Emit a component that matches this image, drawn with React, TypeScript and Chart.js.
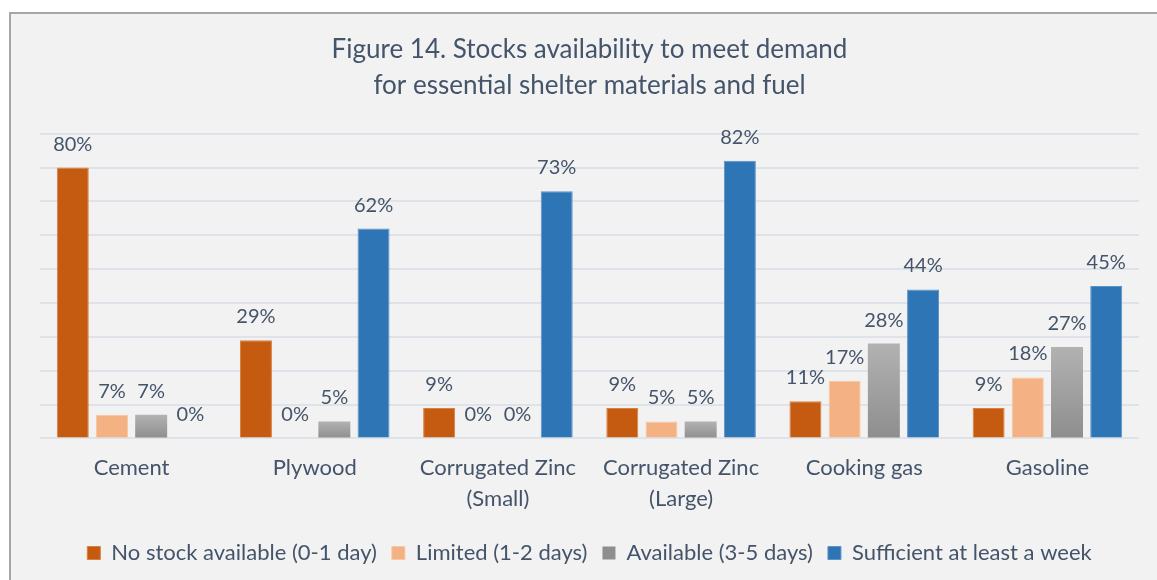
import React, { useEffect, useRef } from "react";
import { Chart, registerables } from "chart.js";

Chart.register(...registerables);

const categories: (string | string[])[] = [
  "Cement",
  "Plywood",
  ["Corrugated Zinc", "(Small)"],
  ["Corrugated Zinc", "(Large)"],
  "Cooking gas",
  "Gasoline",
];
const seriesNames = [
  "No stock available (0-1 day)",
  "Limited (1-2 days)",
  "Available (3-5 days)",
  "Sufficient at least a week",
];
const noStock = [80, 29, 9, 9, 11, 9];
const limited = [7, 0, 0, 5, 17, 18];
const available = [7, 5, 0, 5, 28, 27];
const sufficient = [0, 62, 73, 82, 44, 45];
const titleLines = [
  "Figure 14. Stocks availability to meet demand",
  "for essential shelter materials and fuel",
];

const TEXT = "#44546A";
const FONT = "Lato, 'Open Sans', sans-serif";

const backgroundPlugin = {
  id: "frameBg",
  beforeDraw(chart: any) {
    const ctx = chart.ctx;
    ctx.save();
    ctx.fillStyle = "#ffffff";
    ctx.fillRect(0, 0, chart.width, chart.height);
    ctx.fillStyle = "#f2f2f2";
    ctx.fillRect(10, 14, chart.width, chart.height);
    ctx.strokeStyle = "#a6a6a6";
    ctx.lineWidth = 2;
    ctx.beginPath();
    ctx.moveTo(10, chart.height + 5);
    ctx.lineTo(10, 13);
    ctx.lineTo(chart.width + 5, 13);
    ctx.stroke();
    ctx.restore();
  },
};

const valueLabelPlugin = {
  id: "valueLabels",
  afterDatasetsDraw(chart: any) {
    const ctx = chart.ctx;
    ctx.save();
    ctx.fillStyle = TEXT;
    ctx.font = `20px ${FONT}`;
    ctx.textAlign = "center";
    ctx.textBaseline = "alphabetic";
    chart.data.datasets.forEach((ds: any, di: number) => {
      const meta = chart.getDatasetMeta(di);
      meta.data.forEach((bar: any, i: number) => {
        ctx.fillText(`${ds.data[i]}%`, bar.x, bar.y - 17);
      });
    });
    ctx.restore();
  },
};

function grayGradient(c: any) {
  const chart = c.chart;
  const y = chart.scales && chart.scales.y;
  if (!chart.chartArea || !y || c.parsed == null) return "#a0a0a0";
  const top = y.getPixelForValue(c.parsed.y);
  const bottom = y.getPixelForValue(0);
  if (!(bottom - top > 0.5)) return "#a0a0a0";
  const g = chart.ctx.createLinearGradient(0, top, 0, bottom);
  g.addColorStop(0, "#b2b2b2");
  g.addColorStop(1, "#8e8e8e");
  return g;
}

export default function App() {
  const ref = useRef<HTMLCanvasElement | null>(null);
  useEffect(() => {
    if (!ref.current) return;
    const chart = new Chart(ref.current, {
      type: "bar",
      data: {
        labels: categories,
        datasets: [
          { label: seriesNames[0], data: noStock, backgroundColor: "#C55A11", borderColor: "#d9803f", borderWidth: 1 },
          { label: seriesNames[1], data: limited, backgroundColor: "#F4B183", borderColor: "#f8c7a3", borderWidth: 1 },
          { label: seriesNames[2], data: available, backgroundColor: grayGradient as any, borderColor: "#bdbdbd", borderWidth: 0 },
          { label: seriesNames[3], data: sufficient, backgroundColor: "#2E75B6", borderColor: "#5b93c8", borderWidth: 1 },
        ],
      },
      plugins: [backgroundPlugin, valueLabelPlugin],
      options: {
        animation: false,
        responsive: false,
        maintainAspectRatio: false,
        layout: { padding: { left: 40, right: 18, top: 32, bottom: 6 } },
        datasets: { bar: { categoryPercentage: 0.856, barPercentage: 0.816 } },
        scales: {
          x: {
            grid: { display: false },
            border: { display: false },
            ticks: { color: TEXT, font: { family: FONT, size: 22, lineHeight: 1.4 }, padding: 6, maxRotation: 0, autoSkip: false },
            afterFit(scale: any) {
              scale.height += 7;
            },
          },
          y: {
            min: 0,
            max: 90,
            ticks: { display: false, stepSize: 10 },
            border: { display: false },
            grid: { color: "#dee3ea", lineWidth: 2, drawTicks: false },
          },
        },
        plugins: {
          title: {
            display: true,
            text: titleLines,
            color: TEXT,
            font: { family: FONT, size: 26, weight: "normal", lineHeight: 1.38 },
            padding: { top: 0, bottom: 30 },
          },
          legend: {
            position: "bottom",
            labels: {
              color: TEXT,
              font: { family: FONT, size: 22 },
              boxWidth: 13,
              boxHeight: 13,
              padding: 15,
            },
          },
          tooltip: { enabled: false },
        },
      },
    });
    return () => chart.destroy();
  }, []);
  return (
    <div style={{ position: "fixed", left: 0, top: 0, width: 1157, height: 580, background: "#fff" }}>
      <canvas ref={ref} width={1157} height={580} style={{ display: "block", width: 1157, height: 580 }} />
    </div>
  );
}
